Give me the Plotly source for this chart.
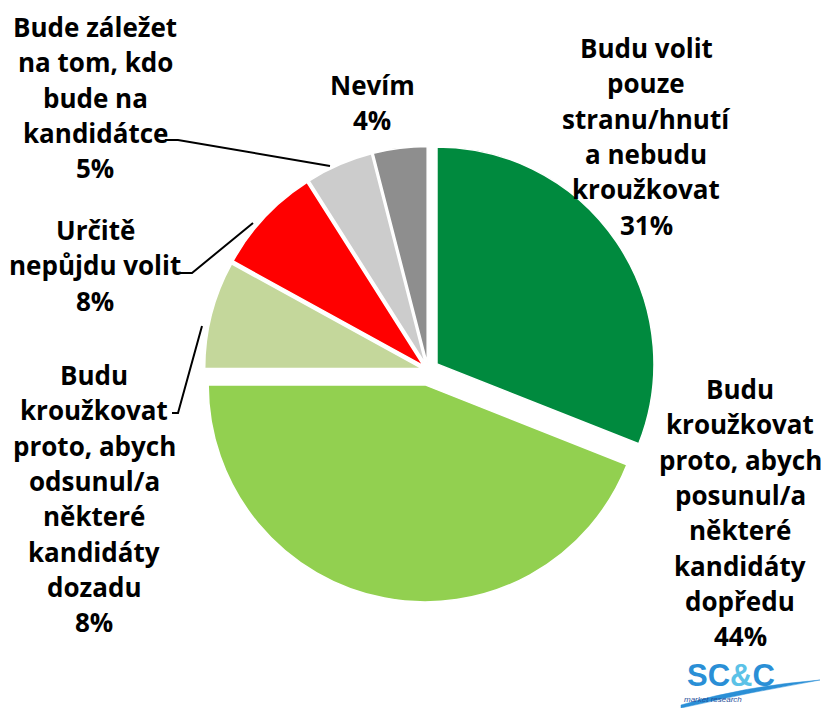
import plotly.graph_objects as go

W, H = 821, 708

labels = [
    "Budu volit pouze stranu/hnutí a nebudu kroužkovat",
    "Budu kroužkovat proto, abych posunul/a některé kandidáty dopředu",
    "Budu kroužkovat proto, abych odsunul/a některé kandidáty dozadu",
    "Určitě nepůjdu volit",
    "Bude záležet na tom, kdo bude na kandidátce",
    "Nevím",
]
values = [31, 44, 8, 8, 5, 4]
label_lines = [
    ["Budu volit", "pouze", "stranu/hnutí", "a nebudu", "kroužkovat", "31%"],
    ["Budu", "kroužkovat", "proto, abych", "posunul/a", "některé", "kandidáty", "dopředu", "44%"],
    ["Budu", "kroužkovat", "proto, abych", "odsunul/a", "některé", "kandidáty", "dozadu", "8%"],
    ["Určitě", "nepůjdu volit", "8%"],
    ["Bude záležet", "na tom, kdo", "bude na", "kandidátce", "5%"],
    ["Nevím", "4%"],
]
colors = ["#008A3E", "#92D050", "#C4D79B", "#FF0000", "#CCCCCC", "#8E8E8E"]
pulls = [0.05, 0.07, 0.03, 0.03, 0.03, 0.03]


def px(x):
    return x / W


def py(y):
    return 1 - y / H


# pie geometry (pixels)
cx, cy, r = 428, 370, 217
half = r * (1 + max(pulls))

fig = go.Figure(
    go.Pie(
        labels=labels,
        values=values,
        marker=dict(colors=colors, line=dict(color="white", width=1.5)),
        pull=pulls,
        sort=False,
        direction="clockwise",
        rotation=0,
        textinfo="none",
        hoverinfo="label+percent",
        showlegend=False,
        domain=dict(x=[px(cx - half), px(cx + half)], y=[py(cy + half), py(cy - half)]),
    )
)

# label blocks: centre x and first-line centre y (pixels)
label_pos = [(646, 48), (740, 389), (94, 375), (95, 230), (95, 27), (372, 85)]
line_step = 35.3
annotations = []
for lines, (x, y0) in zip(label_lines, label_pos):
    for i, ln in enumerate(lines):
        annotations.append(
            dict(
                text=f"<b>{ln}</b>", x=px(x), y=py(y0 + i * line_step),
                xref="paper", yref="paper",
                xanchor="center", yanchor="middle", showarrow=False,
                font=dict(family="Open Sans", size=26, color="black"),
            )
        )

# logo
annotations.append(dict(
    text="<b>SC<span style='color:#5BC2E7'>&amp;</span>C</b>",
    x=px(731), y=py(675), xref="paper", yref="paper", showarrow=False,
    xanchor="center", yanchor="middle",
    font=dict(family="Liberation Sans", size=31, color="#2A8FD6"),
))
annotations.append(dict(
    text="<i>market research</i>",
    x=px(682), y=py(699), xref="paper", yref="paper", showarrow=False,
    xanchor="left", yanchor="middle",
    font=dict(family="Liberation Sans", size=8, color="#1F4E9A"),
))

leaders = [
    [(165, 140), (178, 140), (330, 166)],
    [(180, 273), (192, 273), (253, 223)],
    [(172, 413), (178, 413), (202, 326)],
]
shapes = []
for pts in leaders:
    path = "M " + " L ".join(f"{px(x)},{py(y)}" for x, y in pts)
    shapes.append(dict(type="path", path=path, xref="paper", yref="paper",
                       line=dict(color="black", width=2)))

# logo swoosh
shapes.append(dict(
    type="path", xref="paper", yref="paper",
    path=f"M {px(681)},{py(705)} Q {px(745)},{py(686)} {px(820)},{py(680)} "
         f"Q {px(750)},{py(692)} {px(681)},{py(708)} Z",
    fillcolor="#2A8FD6", line=dict(color="#2A8FD6", width=0.5),
))

fig.update_layout(
    width=W, height=H,
    margin=dict(l=0, r=0, t=0, b=0),
    paper_bgcolor="white", plot_bgcolor="white",
    annotations=annotations, shapes=shapes,
)

fig.write_html(
    "out.html",
    config={"displayModeBar": False},
    post_script="document.body.style.margin='0';document.body.style.overflow='hidden';",
)
